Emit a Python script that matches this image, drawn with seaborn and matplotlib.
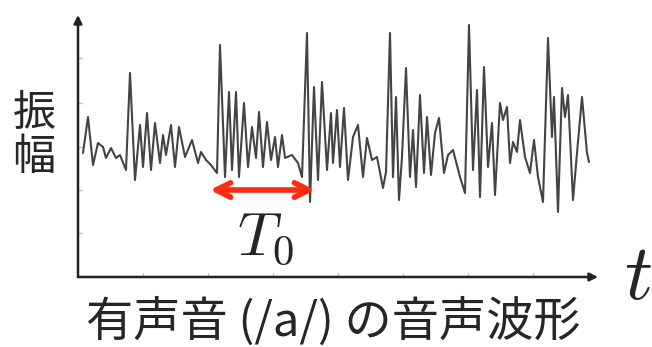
import numpy as np
import pandas as pd
import matplotlib
matplotlib.use("Agg")
import matplotlib.pyplot as plt
import seaborn as sns


# waveform vertices (sample index, amplitude)
time = [5, 10, 15, 20, 25, 28, 33, 38, 42, 48, 52, 57, 62, 65, 69, 73, 77, 82,
        85, 88, 93, 97, 101, 107, 114, 120, 123, 128, 133, 139, 142, 147, 151,
        154, 158, 161, 166, 170, 174, 178, 181, 185, 189, 193, 197, 200, 204,
        207, 214, 220, 224, 229, 232, 236, 240, 244, 249, 253, 255, 259, 262,
        266, 270, 275, 280, 285, 289, 294, 299, 305, 308, 312, 315, 318, 321,
        324, 328, 332, 335, 338, 342, 346, 349, 353, 357, 361, 366, 370, 375,
        382, 387, 391, 395, 399, 402, 406, 410, 414, 417, 422, 425, 429, 432,
        435, 439, 442, 447, 452, 456, 460, 465, 470, 474, 476, 480, 484, 487,
        490, 495, 499, 504, 509, 511]
amp = [-3, 33, -15, 7, 3, -8, 2, -8, -5, -20, 77, -30, 25, -17, 37, -20, 27,
       -13, 15, -5, 25, -17, 23, -7, 10, -13, -2, -10, -15, -23, 105, -27, 58,
       -20, 58, -27, 47, -17, 23, -8, 38, -17, 28, -10, 13, -17, 15, -8, -5,
       -13, -27, 117, -52, 63, -30, 68, -20, 37, -13, 40, -17, 42, -30, 13, 25,
       -27, 12, -10, -7, -38, -22, 117, -27, 53, -50, -7, 82, -27, 20, -37, 55,
       -23, 33, -25, 17, 32, -23, -5, 0, -27, -43, 125, -20, 60, -47, 83, -17,
       27, -45, 47, 30, 43, -13, 8, -2, 30, -7, -23, 10, -27, -52, 112, 13, 53,
       -62, 62, 33, 55, -50, -3, 53, -3, -12]

# pitch period marker
t0_start, t0_end, t0_level = 132, 237, -40

x_ticks = [65, 130, 195, 260, 325, 390, 455]
y_ticks = [-83, -40, 3, 47, 92]

y_label = "振\n幅"
x_label = "$t$"
period_label = "$T_0$"
caption = "有声音 (/a/) の音声波形"

sns.set_style("white")
plt.rcParams["font.family"] = ["Noto Sans CJK JP", "DejaVu Sans"]
plt.rcParams["mathtext.fontset"] = "cm"

fig = plt.figure(figsize=(6.52, 3.47), dpi=100)
ax = fig.add_axes([78 / 652, 70 / 347, 520 / 652, 262 / 347])

wave = pd.DataFrame({"t": time, "a": amp})
sns.lineplot(data=wave, x="t", y="a", ax=ax, sort=False, estimator=None,
             color="#444444", lw=1.5)

ax.set_xlim(0, 520)
ax.set_ylim(-127, 135)
for s in ax.spines.values():
    s.set_visible(False)
ax.set_xticks(x_ticks)
ax.set_yticks(y_ticks)
ax.set_xticklabels([])
ax.set_yticklabels([])
ax.tick_params(direction="in", length=3, width=1, color="#bbbbbb",
               bottom=True, left=True)
ax.set_xlabel("")
ax.set_ylabel("")

# axes drawn as arrows
arrow = dict(arrowstyle="-|>", color="#222222", lw=1.8, mutation_scale=12,
             shrinkA=0, shrinkB=0)
ax.annotate("", xy=(1, 0), xytext=(0, 0), xycoords="axes fraction",
            arrowprops=arrow)
ax.annotate("", xy=(0, 1), xytext=(0, 0), xycoords="axes fraction",
            arrowprops=arrow)

ax.annotate("", xy=(t0_end, t0_level), xytext=(t0_start, t0_level),
            arrowprops=dict(arrowstyle="<->", color="#ff2a10", lw=4,
                            mutation_scale=26, shrinkA=0, shrinkB=0))
ax.text(188, -87, period_label, fontsize=44, ha="center", va="center")

fig.text(34 / 652, 1 - 136 / 347, y_label, fontsize=31, ha="center",
         va="center", linespacing=1.0)
fig.text(638 / 652, 1 - 277 / 347, x_label, fontsize=56, ha="center",
         va="center")
fig.text(333 / 652, 1 - 322 / 347, caption, fontsize=34, ha="center",
         va="center")

fig.savefig("out.png", dpi=100)
plt.close(fig)
